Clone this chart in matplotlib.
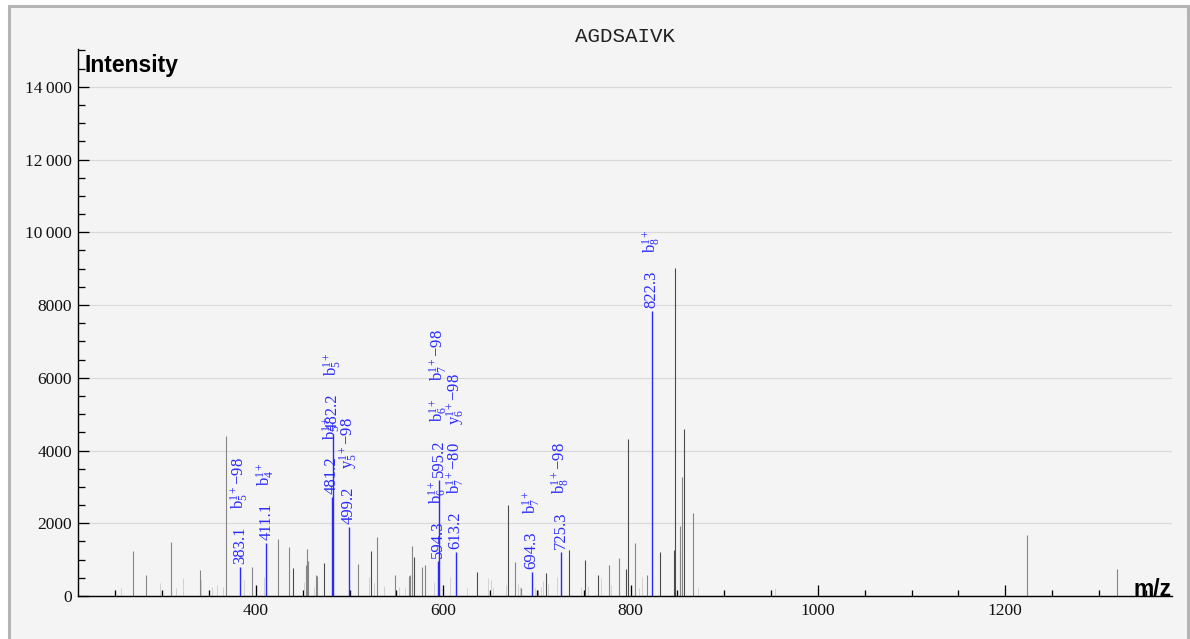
import matplotlib
matplotlib.use('Agg')
import matplotlib.pyplot as plt
from matplotlib.ticker import MultipleLocator, FuncFormatter
from matplotlib.patches import Rectangle

plt.rcParams['mathtext.fontset'] = 'custom'
plt.rcParams['mathtext.rm'] = 'Liberation Serif'
plt.rcParams['mathtext.it'] = 'Liberation Serif:italic'
plt.rcParams['mathtext.bf'] = 'Liberation Serif:bold'

title = 'AGDSAIVK'

# unmatched peaks, dark gray
dark_mz = [439.9, 472.2, 523.1, 569.0, 636.2, 669.3, 709.2, 734.2, 751.1, 765.3,
           795.2, 797.3, 831.5, 846.4, 847.3, 857.0]
dark_int = [775, 900, 1237, 1080, 650, 2494, 623, 1265, 990, 577,
            742, 4318, 1215, 1260, 9030, 4584]

# unmatched peaks, mid gray
mid_mz = [268.7, 282.6, 309.6, 339.9, 368.0, 395.7, 423.2, 434.8, 453.0, 454.1,
          455.8, 463.8, 465.4, 508.9, 529.1, 548.0, 563.0, 564.7, 566.8, 576.8,
          580.4, 676.2, 682.8, 701.0, 777.0, 787.2, 804.4, 818.0, 852.3, 853.2,
          855.0, 866.2, 1223.6, 1319.2]
mid_int = [1230, 578, 1475, 720, 4410, 800, 1565, 1350, 850, 1280,
           955, 577, 560, 870, 1614, 568, 550, 586, 1375, 806,
           852, 944, 230, 170, 852, 1040, 1450, 577, 1265, 1925,
           3280, 2295, 1677, 733]

# weak peaks, light gray
light_mz = [255.6, 297.5, 314.6, 321.8, 341.6, 352.7, 358.7, 365.1, 386.9, 408.7,
            451.2, 462.2, 520.9, 526.3, 536.3, 552.6, 559.3, 589.6, 607.0, 624.9,
            648.0, 650.8, 652.6, 666.7, 679.8, 681.4, 698.1, 704.2, 706.6, 711.6,
            720.9, 746.5, 754.6, 768.9, 776.7, 778.9, 809.0, 812.5, 872.0, 954.6]
light_int = [225, 366, 220, 505, 430, 240, 305, 240, 440, 525,
             395, 256, 530, 366, 275, 240, 220, 394, 530, 220,
             486, 440, 256, 300, 340, 256, 220, 240, 420, 330,
             530, 256, 275, 486, 530, 300, 220, 530, 230, 230]

# annotated fragment ions
ion_mz = [383.1, 411.1, 481.2, 482.2, 499.2, 594.3, 595.2, 613.2, 694.3, 725.3, 822.3]
ion_int = [806, 1450, 2714, 4455, 1906, 960, 3200, 1220, 670, 1210, 7846]
ion_names = [
    ['b$_5^{1+}$\u221298'],
    ['b$_4^{1+}$'],
    ['b$_5^{1+}$'],
    ['b$_5^{1+}$'],
    ['y$_5^{1+}$\u221298'],
    ['b$_6^{1+}$'],
    ['b$_6^{1+}$', 'b$_7^{1+}$\u221298'],
    ['b$_7^{1+}$\u221280', 'y$_6^{1+}$\u221298'],
    ['b$_7^{1+}$'],
    ['b$_8^{1+}$\u221298'],
    ['b$_8^{1+}$'],
]

W, H, DPI = 1190, 639, 100
PT = 72 / DPI  # px -> pt
serif = ['Liberation Serif', 'DejaVu Serif']
blue = '#2a2aff'

fig = plt.figure(figsize=(W / DPI, H / DPI), dpi=DPI, facecolor='white')
fig.add_artist(Rectangle((8.5 / W, -0.05), (1187.5 - 8.5) / W, 1.05 - 5.5 / H,
                         transform=fig.transFigure, facecolor='#f4f4f4',
                         edgecolor='#b4b4b4', lw=2.2, zorder=-10))

ax = fig.add_axes([78 / W, 43 / H, (1172 - 78) / W, (596 - 49) / H])
ax.set_facecolor('none')

ax.vlines(light_mz, 0, light_int, color='#d2d2d2', lw=1 * PT, zorder=2)
ax.vlines(mid_mz, 0, mid_int, color='#858585', lw=1.1 * PT, zorder=3)
ax.vlines(dark_mz, 0, dark_int, color='#4a4a4a', lw=1.1 * PT, zorder=3)
ax.vlines(ion_mz, 0, ion_int, color=blue, lw=1.4 * PT, zorder=4)

ax.set_xlim(210, 1378)
ax.set_ylim(0, 15040)

ax.xaxis.set_major_locator(MultipleLocator(200))
ax.xaxis.set_minor_locator(MultipleLocator(50))
ax.yaxis.set_major_locator(MultipleLocator(2000))
ax.yaxis.set_minor_locator(MultipleLocator(500))


def fmt_int(v, pos):
    v = int(round(v))
    if v >= 10000:
        return f'{v // 1000}\u2009{v % 1000:03d}'
    return str(v)


ax.yaxis.set_major_formatter(FuncFormatter(fmt_int))

ax.tick_params(which='major', direction='in', length=11 * PT, width=1.3 * PT,
               color='black', labelsize=12.5, labelcolor='#111111')
ax.tick_params(which='minor', direction='in', length=6.5 * PT, width=1.3 * PT,
               color='black')
ax.tick_params(axis='y', which='major', pad=6 * PT)
ax.tick_params(axis='x', which='major', pad=7 * PT)
for lab in ax.get_xticklabels() + ax.get_yticklabels():
    lab.set_family(serif)

for s in ['top', 'right']:
    ax.spines[s].set_visible(False)
for s in ['left', 'bottom']:
    ax.spines[s].set_linewidth(1.4 * PT)
    ax.spines[s].set_zorder(5)

ax.yaxis.grid(True, which='major', color='#d9d9d9', lw=1.2 * PT)
ax.set_axisbelow(True)

# peak labels: m/z value first, ion names stacked above it
renderer = fig.canvas.get_renderer()
for mz, inten, names in zip(ion_mz, ion_int, ion_names):
    off = 3
    for s in [f'{mz:.1f}'] + names:
        t = ax.annotate(s, (mz, inten), xytext=(0, off * PT), textcoords='offset points',
                        rotation=90, ha='center', va='bottom', color=blue,
                        fontsize=12, family=serif, zorder=6)
        off += t.get_window_extent(renderer).height + 17

fig.text(625 / W, 1 - 37 / H, title, ha='center', va='center',
         family=['Liberation Mono', 'DejaVu Sans Mono'], fontsize=15, color='#222222')
fig.text(85 / W, 1 - 72 / H, 'Intensity', ha='left', va='baseline',
         family=['Liberation Sans', 'DejaVu Sans'], fontweight='bold', fontsize=16.5)
fig.text(1172 / W, 1 - 596 / H, 'm/z', ha='right', va='baseline',
         family=['Liberation Sans', 'DejaVu Sans'], fontweight='bold', fontsize=16.5)

fig.savefig('out.png', dpi=DPI, facecolor=fig.get_facecolor())
